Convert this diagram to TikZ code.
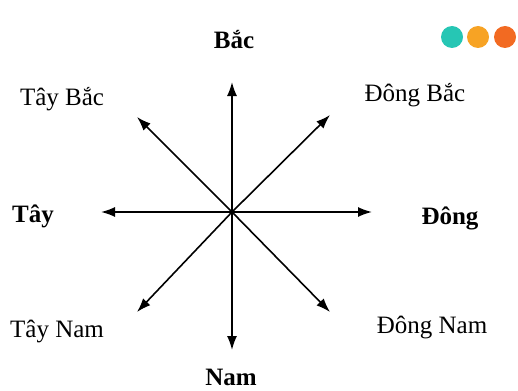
\documentclass[tikz,border=0pt]{standalone}
\usepackage{fontspec}
\setmainfont{Liberation Serif}
\usepackage{xcolor}
\usetikzlibrary{arrows.meta}
\definecolor{dotteal}{HTML}{26C6B4}
\definecolor{dotorange}{HTML}{F7A324}
\definecolor{dotred}{HTML}{F26A22}

\begin{document}
\begin{tikzpicture}[x=0.5pt, y=-0.5pt,
  dirarrow/.style={-{Latex[length=7pt,width=5pt]}, line width=0.8pt},
  dirlabel/.style={inner sep=1pt, font=\fontsize{12.5}{14}\selectfont},
  mainlabel/.style={inner sep=1pt, font=\fontsize{12.5}{14}\selectfont\bfseries}]
  \useasboundingbox (0,0) rectangle (518,390);

  % Centre and arrow ends
  \coordinate (O) at (232,212);
  \coordinate (N) at (232,82);
  \coordinate (S) at (232,350);
  \coordinate (W) at (101,212);
  \coordinate (E) at (372,212);
  \coordinate (NW) at (137,117);
  \coordinate (NE) at (330,115);
  \coordinate (SW) at (137,312);
  \coordinate (SE) at (330,312);

  \foreach \p in {N,S,W,E,NW,NE,SW,SE}
    \draw[dirarrow] (O) -- (\p);

  % Labels
  \node[mainlabel] (bac) at (234,40) {Bắc};
  \node[mainlabel] (nam) at (231,377) {Nam};
  \node[mainlabel] (tay) at (33,216) {Tây};
  \node[mainlabel] (dong) at (450,218) {Đông};
  \node[dirlabel] (taybac) at (62,99) {Tây Bắc};
  \node[dirlabel] (dongbac) at (415,95) {Đông Bắc};
  \node[dirlabel] (taynam) at (57,331) {Tây Nam};
  \node[dirlabel] (dongnam) at (432,327) {Đông Nam};

  % Dots
  \fill[dotteal] (452,37) circle (11);
  \fill[dotorange] (478,37) circle (11);
  \fill[dotred] (505,37) circle (11);
\end{tikzpicture}
\end{document}
